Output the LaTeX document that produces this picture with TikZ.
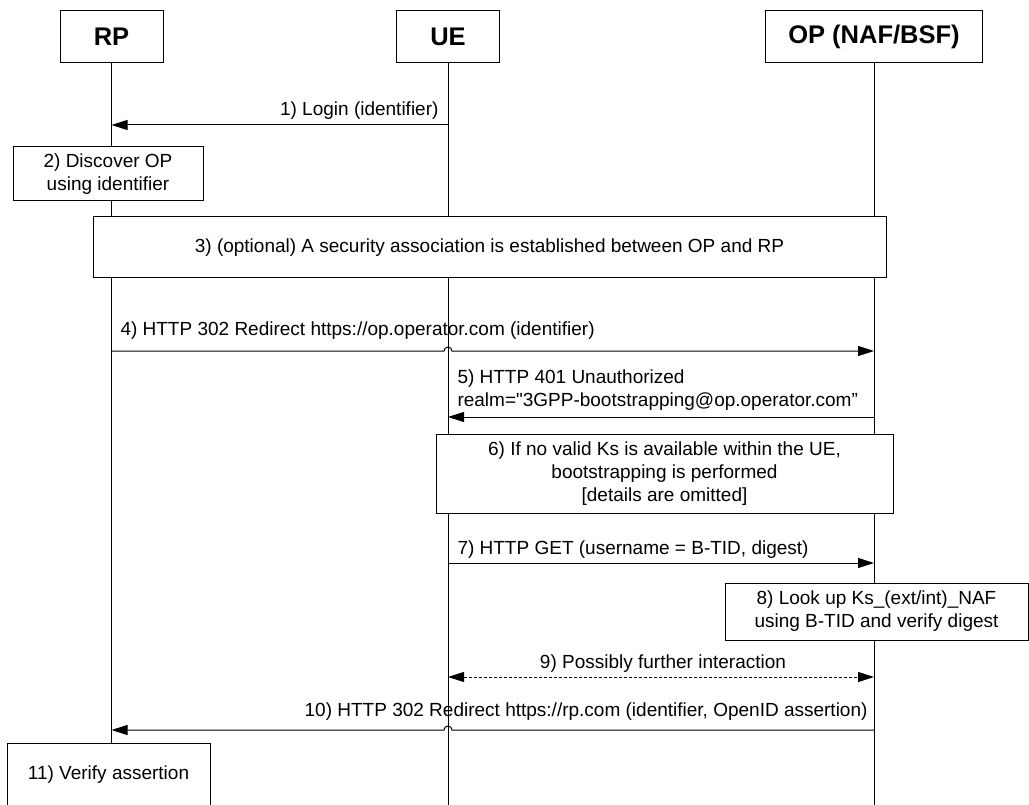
\documentclass[tikz,border=0pt]{standalone}
\usepackage{fontspec}
\setmainfont{Liberation Sans}
\usetikzlibrary{arrows.meta,calc}
\begin{document}
\begin{tikzpicture}[x=1pt,y=-1pt, line width=1pt,
  every node/.style={inner sep=0pt},
  lbl/.style={font=\fontsize{19}{23}\selectfont, align=left},
  head/.style={draw, fill=white, minimum height=52pt, font=\bfseries\fontsize{25.5}{30}\selectfont},
  stepbox/.style={draw, fill=white, align=center, font=\fontsize{19}{23}\selectfont},
  msg/.style={-{Triangle[length=16pt,width=10pt]}},
  dmsg/.style={{Triangle[length=16pt,width=10pt]}-{Triangle[length=16pt,width=10pt]}, dash pattern=on 3pt off 2pt}]
\clip (0,0) rectangle (1029,805);
\fill[white] (0,0) rectangle (1029,805);
% headers
\node[head, minimum width=103pt] (rp) at (111.5,37) {RP};
\node[head, minimum width=103pt] (ue) at (448,37) {UE};
\node[head, minimum width=217pt] (op) at (874,37) {OP (NAF/BSF)};
\coordinate (bot) at (0,810);
\draw (rp.south) -- (rp.south |- bot);
\draw (ue.south) -- (ue.south |- bot);
\draw (op.south) -- (op.south |- bot);
% y levels
\coordinate (y1) at (0,125);
\coordinate (y4) at (0,351);
\coordinate (y5) at (0,417);
\coordinate (y7) at (0,563);
\coordinate (y9) at (0,677);
\coordinate (y10) at (0,730);
% 1
\draw[msg] (ue |- y1) -- (rp |- y1);
\node[lbl, anchor=base east] (l1) at (439,116) {1) Login (identifier)};
% 2
\node[stepbox, minimum width=190pt, minimum height=54pt] (s2) at (108,174) {2) Discover OP\\using identifier};
% 3
\node[stepbox, minimum width=793pt, minimum height=61pt] (s3) at (489.5,247.5) {3) (optional) A security association is established between OP and RP};
% 4
\draw[msg] (rp |- y4) -- ($(ue |- y4)+(-4pt,0)$) arc[start angle=180, end angle=0, radius=4pt] -- (op |- y4);
\node[lbl, anchor=base west] (l4) at (120,335) {4) HTTP 302 Redirect https://op.operator.com (identifier)};
% 5
\draw[msg] (op |- y5) -- (ue |- y5);
\node[lbl, anchor=base west] (l5) at (457,406) {5) HTTP 401 Unauthorized\\realm=\textquotedbl 3GPP-bootstrapping@op.operator.com”};
% 6
\node[stepbox, minimum width=457pt, minimum height=79pt] (s6) at (664.5,473.5) {6) If no valid Ks is available within the UE,\\bootstrapping is performed\\{[details are omitted]}};
% 7
\draw[msg] (ue |- y7) -- (op |- y7);
\node[lbl, anchor=base west] (l7) at (457,554) {7) HTTP GET (username = B-TID, digest)};
% 8
\node[stepbox, minimum width=303pt, minimum height=57pt] (s8) at (876.5,611.5) {8) Look up Ks\_(ext/int)\_NAF\\using B-TID and verify digest};
% 9
\draw[dmsg] (ue |- y9) -- (op |- y9);
\node[lbl, anchor=base] (l9) at (663,668) {9) Possibly further interaction};
% 10
\draw[msg] (op |- y10) -- ($(ue |- y10)+(4pt,0)$) arc[start angle=0, end angle=180, radius=4pt] -- (rp |- y10);
\node[lbl, anchor=base east] (l10) at (868,716) {10) HTTP 302 Redirect https://rp.com (identifier, OpenID assertion)};
% 11
\node[stepbox, minimum width=203pt, minimum height=64pt] (s11) at (108.5,775) {11) Verify assertion};
\end{tikzpicture}
\end{document}
